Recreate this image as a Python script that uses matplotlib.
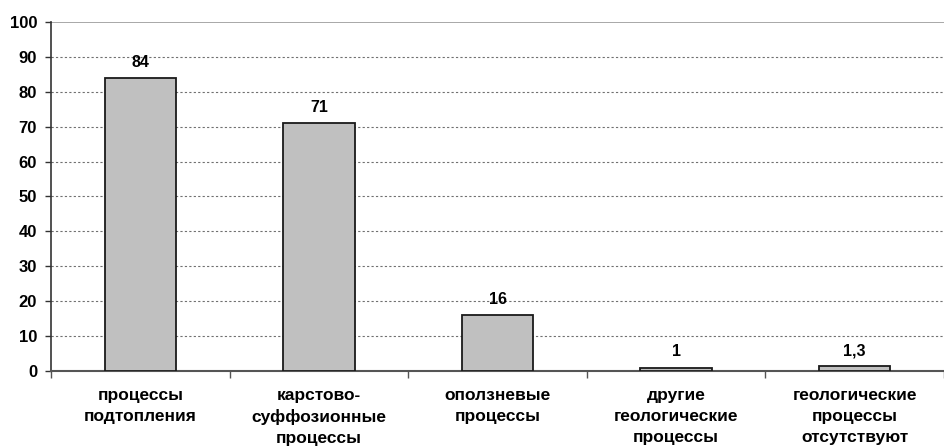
import matplotlib
matplotlib.use("Agg")
import matplotlib.pyplot as plt
import numpy as np

categories = ["процессы\nподтопления", "карстово-\nсуффозионные\nпроцессы",
              "оползневые\nпроцессы", "другие\nгеологические\nпроцессы",
              "геологические\nпроцессы\nотсутствуют"]
values = [84, 71, 16, 1, 1.3]
value_labels = ["84", "71", "16", "1", "1,3"]
yticks = list(range(0, 101, 10))

plt.rcParams['font.family'] = ['Liberation Sans', 'DejaVu Sans']
plt.rcParams['font.weight'] = 'bold'

fig = plt.figure(figsize=(9.45, 4.46), dpi=100)
ax = fig.add_axes([51/945, 75/446, 1 - 51/945 - 1/945, (371-22)/446])

x = np.arange(len(categories))
ax.bar(x, values, width=0.4, color='#c0c0c0', edgecolor='#1a1a1a', linewidth=1.3, zorder=3)
for xi, v, lab in zip(x, values, value_labels):
    ax.annotate(lab, (xi, v), xytext=(0, 6), textcoords='offset points',
                ha='center', va='bottom', fontsize=11.5, fontweight='bold')

ax.set_xlim(-0.5, len(categories) - 0.5)
ax.set_ylim(0, 100)
ax.set_yticks(yticks)
ax.set_yticklabels([str(t) for t in yticks], fontsize=12, fontweight='bold')
for t in yticks[1:-1]:
    ax.axhline(t, color='#707070', linestyle=(0, (2, 2)), linewidth=0.8, zorder=1)
ax.axhline(100, color='#999999', linewidth=1.2, zorder=1)

ax.set_xticks(x)
ax.set_xticklabels(categories, fontsize=12.5, fontweight='bold', linespacing=1.5)
ax.tick_params(axis='x', which='major', length=0, pad=12)
ax.set_xticks(np.arange(len(categories) + 1) - 0.5, minor=True)
ax.tick_params(axis='x', which='minor', length=5, width=1, color='#555555', direction='out')
ax.tick_params(axis='y', length=4, width=1, color='#333333', pad=6)

for s in ['top', 'right']:
    ax.spines[s].set_visible(False)
ax.spines['left'].set_color('#333333')
ax.spines['bottom'].set_color('#555555')
ax.spines['left'].set_linewidth(1.2)
ax.spines['bottom'].set_linewidth(1.5)

fig.savefig('out.png', dpi=100)
